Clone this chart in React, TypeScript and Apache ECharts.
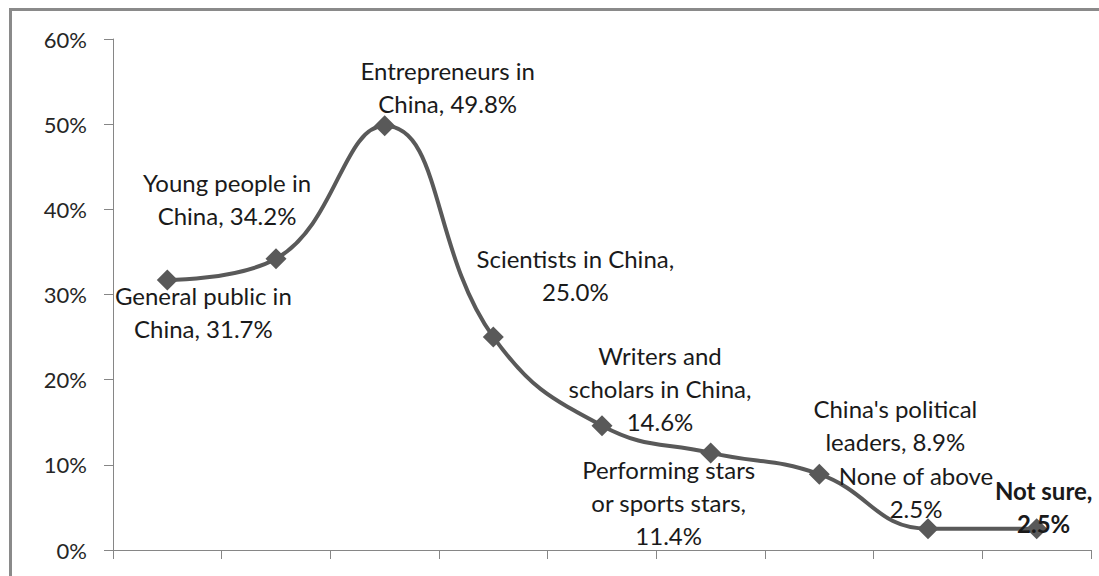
import { useEffect, useRef } from "react";
import * as echarts from "echarts";

// Groups surveyed
const categories = [
  "General public in China",
  "Young people in China",
  "Entrepreneurs in China",
  "Scientists in China",
  "Writers and scholars in China",
  "Performing stars or sports stars",
  "China's political leaders",
  "None of above",
  "Not sure",
];

// Share of respondents (%)
const values = [31.7, 34.2, 49.8, 25.0, 14.6, 11.4, 8.9, 2.5, 2.5];

// Wrapped label text preceding each value
const labelHeads = [
  "General public in\nChina, ",
  "Young people in\nChina, ",
  "Entrepreneurs in\nChina, ",
  "Scientists in China,\n",
  "Writers and\nscholars in China,\n",
  "Performing stars\nor sports stars,\n",
  "China's political\nleaders, ",
  "None of above\n",
  "Not sure,\n",
];

// Label placement relative to each marker
const labelOffsets = [
  [36, 32],
  [-49, -60],
  [63, -39],
  [82, -62],
  [58, -37],
  [-42, 50],
  [76, -49],
  [-12, -37],
  [7, -22],
];

const boldLabels = [false, false, false, false, false, false, false, false, true];

const yTicks = [0, 10, 20, 30, 40, 50, 60];

const FONT = "Lato, 'Noto Sans', sans-serif";

export default function App() {
  const ref = useRef<HTMLDivElement>(null);

  useEffect(() => {
    document.body.style.margin = "0";
    document.body.style.overflow = "hidden";
    if (!ref.current) return;
    const chart = echarts.init(ref.current, undefined, { renderer: "svg" });

    const data = values.map((v, i) => ({
      value: v,
      label: {
        show: true,
        position: "inside",
        offset: labelOffsets[i],
        align: "center",
        verticalAlign: "middle",
        fontWeight: boldLabels[i] ? "bold" : "normal",
        formatter: () => labelHeads[i] + v.toFixed(1) + "%",
      },
    }));

    chart.setOption({
      animation: false,
      backgroundColor: "#ffffff",
      textStyle: { fontFamily: FONT },
      grid: { left: 113, right: 8, top: 39, bottom: 26, containLabel: false },
      graphic: [
        {
          // chart frame: left edge
          type: "line",
          shape: { x1: 10.5, y1: 8, x2: 10.5, y2: 576 },
          style: { stroke: "#8a8a8a", lineWidth: 3 },
          silent: true,
        },
        {
          // chart frame: top edge
          type: "line",
          shape: { x1: 9, y1: 9.5, x2: 1099, y2: 9.5 },
          style: { stroke: "#8a8a8a", lineWidth: 3, lineCap: "butt" },
          silent: true,
        },
      ],
      xAxis: {
        type: "category",
        data: categories,
        boundaryGap: true,
        axisLine: { show: true, lineStyle: { color: "#868686", width: 1 } },
        axisTick: {
          show: true,
          interval: 0,
          length: 9,
          alignWithLabel: false,
          lineStyle: { color: "#868686" },
        },
        axisLabel: { show: false, interval: 0 },
        splitLine: { show: false },
      },
      yAxis: {
        type: "value",
        min: yTicks[0],
        max: yTicks[yTicks.length - 1],
        interval: 10,
        axisLine: { show: true, lineStyle: { color: "#868686", width: 1 } },
        axisTick: { show: true, length: 9, lineStyle: { color: "#868686" } },
        axisLabel: {
          formatter: "{value}%",
          margin: 26,
          fontSize: 22,
          color: "#262626",
          fontFamily: FONT,
        },
        splitLine: { show: false },
      },
      series: [
        {
          type: "line",
          data,
          smooth: 0.45,
          symbol: "diamond",
          symbolSize: 21,
          itemStyle: { color: "#595959" },
          lineStyle: { color: "#595959", width: 4 },
          label: {
            fontSize: 24,
            lineHeight: 33,
            color: "#1a1a1a",
            fontFamily: FONT,
          },
        },
      ],
    });

    return () => chart.dispose();
  }, []);

  return (
    <div
      ref={ref}
      style={{ position: "absolute", left: 0, top: 0, width: 1099, height: 576 }}
    />
  );
}
